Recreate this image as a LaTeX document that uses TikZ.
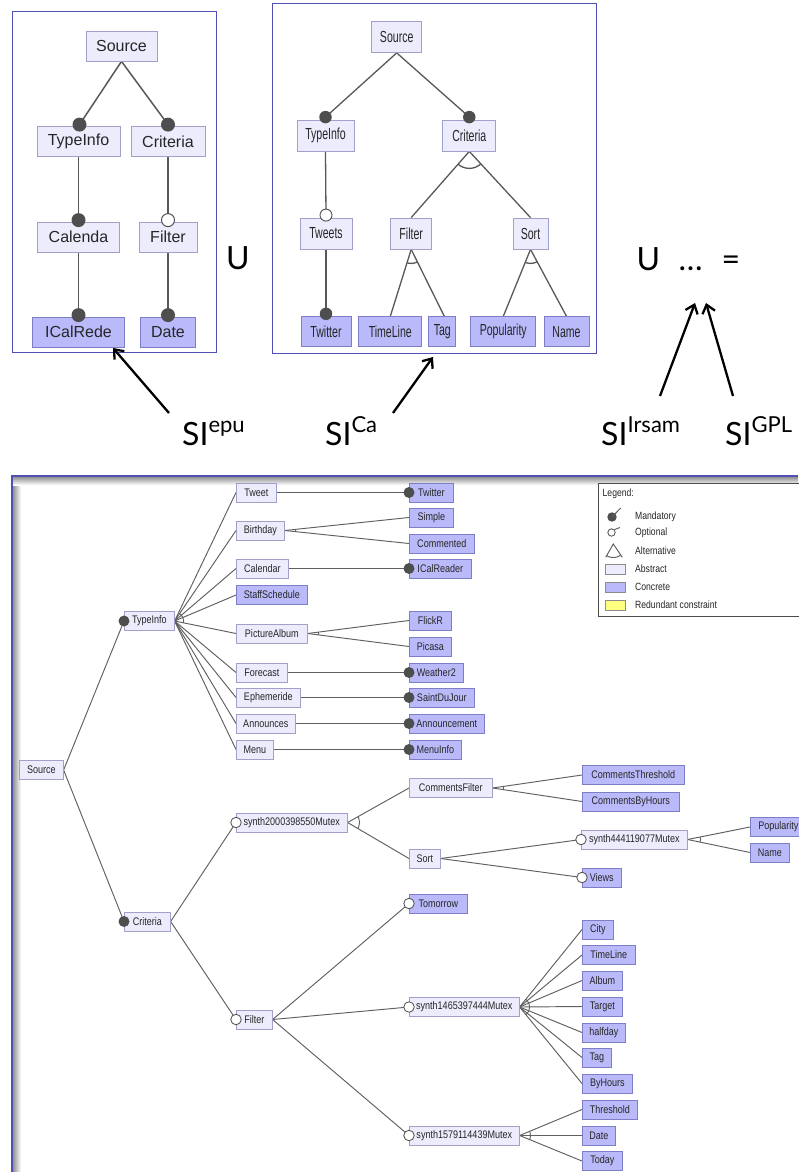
\documentclass[tikz,border=0pt]{standalone}
\usepackage{fontspec}
\setmainfont{Liberation Sans}
\newfontfamily\fpone{Liberation Sans}
\newfontfamily\fptwo[FakeStretch=0.66]{Liberation Sans}
\newfontfamily\fbot[FakeStretch=0.82]{Liberation Sans}
\newfontfamily\fgill{Lato}
\usetikzlibrary{arrows.meta,calc,backgrounds}
\definecolor{absfill}{RGB}{236,236,252}
\definecolor{absline}{RGB}{160,160,200}
\definecolor{confill}{RGB}{186,186,250}
\definecolor{conline}{RGB}{125,125,200}
\definecolor{frameblue}{RGB}{80,80,180}
\definecolor{edgegray}{RGB}{88,88,88}
\definecolor{dotgray}{RGB}{78,78,78}
\definecolor{redund}{RGB}{255,255,128}
\newcommand\grouparc[5]{\begin{scope}\clip (#1) -- ($(#1)!3!(#2)$) -- ($(#1)!3!(#3)$) -- cycle; \draw[#5] (#1) circle[radius=#4]; \end{scope}}
\begin{document}
\begin{tikzpicture}[x=1pt,y=-1pt,
  frameA/.style={draw=frameblue, line width=1pt},
  frameB/.style={draw=frameblue, line width=1.6pt},
  p1abs/.style={draw=absline, fill=absfill, line width=0.8pt, inner sep=0pt, minimum height=30pt, text=black!85, font={\fpone\fontsize{16}{16}\selectfont}},
  p1con/.style={p1abs, draw=conline, fill=confill},
  p2abs/.style={draw=absline, fill=absfill, line width=0.8pt, inner sep=0pt, minimum height=31pt, text=black!85, font={\fptwo\fontsize{16}{16}\selectfont}},
  p2con/.style={p2abs, draw=conline, fill=confill, minimum height=30pt},
  babs/.style={draw=absline, fill=absfill, line width=0.6pt, inner sep=0pt, minimum height=19pt, anchor=west, text=black!85, font={\fbot\fontsize{11}{11}\selectfont}},
  bcon/.style={babs, draw=conline, fill=confill},
  mandA/.style={circle, fill=dotgray, inner sep=0pt, minimum size=14pt},
  optA/.style={circle, fill=white, draw=dotgray, line width=1pt, inner sep=0pt, minimum size=13pt},
  mandB/.style={circle, fill=dotgray, inner sep=0pt, minimum size=12.5pt},
  optB/.style={circle, fill=white, draw=dotgray, line width=0.9pt, inner sep=0pt, minimum size=12pt},
  mandC/.style={circle, fill=dotgray, inner sep=0pt, minimum size=11pt},
  optC/.style={circle, fill=white, draw=dotgray, line width=0.8pt, inner sep=0pt, minimum size=10.5pt},
  edgeA/.style={draw=edgegray, line width=1.5pt},
  edgeB/.style={draw=edgegray, line width=1.3pt},
  edgeC/.style={draw=edgegray!95, line width=0.95pt},
  bigarrow/.style={draw=black, line width=2.3pt, -{Straight Barb[length=8pt,width=13pt]}},
  gill/.style={inner sep=0pt, font={\fgill\fontsize{32}{32}\selectfont}},
  silabel/.style={inner sep=0pt, anchor=base west, font={\fgill\fontsize{32}{32}\selectfont}},
  legtext/.style={inner sep=0pt, anchor=west, text=black!85, font={\fbot\fontsize{10.5}{10.5}\selectfont}},
  swatch/.style={draw=black!45, line width=0.6pt, minimum width=20pt, minimum height=10pt, inner sep=0pt}
]
\useasboundingbox (0,0) rectangle (798,1172);

% ---------------- panel 1 ----------------
\draw[frameA] (12,12) rectangle (216,352);
\node[p1abs, minimum width=71pt] (src1) at (121.5,46) {Source};
\node[p1abs, minimum width=83pt] (ti1) at (78.5,141.5) {TypeInfo};
\node[p1abs, minimum width=74pt] (cr1) at (168,141.5) {Criteria};
\node[p1abs, minimum width=82pt] (cal1) at (78.5,237) {Calenda};
\node[p1abs, minimum width=58pt] (fil1) at (168,237) {Filter};
\node[p1con, minimum width=92pt] (ical1) at (78.5,332) {ICalRede};
\node[p1con, minimum width=55pt] (date1) at (168,332) {Date};
\node[mandA] (k1a) at ($(ti1.north)+(1,-1.5)$) {};
\node[mandA] (k1b) at ($(cr1.north)+(0,-1.5)$) {};
\node[mandA] (k1c) at ($(cal1.north)+(0,-1.5)$) {};
\node[optA]  (k1d) at ($(fil1.north)+(0,-1.5)$) {};
\node[mandA] (k1e) at ($(ical1.north)+(0,-1.5)$) {};
\node[mandA] (k1f) at ($(date1.north)+(0,-1.5)$) {};
\begin{scope}[on background layer]
\draw[edgeA] (src1.south) -- (k1a.center);
\draw[edgeA] (src1.south) -- (k1b.center);
\draw[edgeA] (ti1.south) -- (k1c.center);
\draw[edgeA] (cr1.south) -- (k1d.center);
\draw[edgeA] (cal1.south) -- (k1e.center);
\draw[edgeA] (fil1.south) -- (k1f.center);
\end{scope}

% ---------------- panel 2 ----------------
\draw[frameA] (272,4) rectangle (596,353);
\node[p2abs, minimum width=50pt] (src2) at (396.7,37) {Source};
\node[p2abs, minimum width=57pt] (ti2) at (325.5,135.5) {TypeInfo};
\node[p2abs, minimum width=53pt] (cr2) at (469.3,135.5) {Criteria};
\node[p2abs, minimum width=52pt] (tw2) at (326,233.5) {Tweets};
\node[p2abs, minimum width=41pt] (fil2) at (411.2,233.5) {Filter};
\node[p2abs, minimum width=35pt] (sort2) at (530.5,233.5) {Sort};
\node[p2con, minimum width=50pt] (twit2) at (326,331.7) {Twitter};
\node[p2con, minimum width=63pt] (tl2) at (390.3,331.7) {TimeLine};
\node[p2con, minimum width=27pt] (tag2) at (442.3,331.7) {Tag};
\node[p2con, minimum width=65pt] (pop2) at (503.3,331.7) {Popularity};
\node[p2con, minimum width=45pt] (name2) at (566.5,331.7) {Name};
\node[mandB] (k2a) at ($(ti2.north)+(0,-2.5)$) {};
\node[mandB] (k2b) at ($(cr2.north)+(0,-2.5)$) {};
\node[optB]  (k2c) at ($(tw2.north)+(0,-2.5)$) {};
\node[mandB] (k2d) at ($(twit2.north)+(0,-2.5)$) {};
\begin{scope}[on background layer]
\draw[edgeB] (src2.south) -- (k2a.center);
\draw[edgeB] (src2.south) -- (k2b.center);
\draw[edgeB] (ti2.south) -- (k2c.center);
\draw[edgeB] (tw2.south) -- (k2d.center);
\draw[edgeB] (cr2.south) -- (fil2.north);
\draw[edgeB] (cr2.south) -- (sort2.north);
\draw[edgeB] (fil2.south) -- (tl2.north);
\draw[edgeB] (fil2.south) -- ($(tag2.north)+(2,0)$);
\draw[edgeB] (sort2.south) -- (pop2.north);
\draw[edgeB] (sort2.south) -- (name2.north);
\end{scope}
\grouparc{cr2.south}{fil2.north}{sort2.north}{17}{edgeB}
\grouparc{fil2.south}{tl2.north}{tag2.north}{14}{edgeB}
\grouparc{sort2.south}{pop2.north}{name2.north}{14}{edgeB}

% ---------------- union signs and labels ----------------
\node[gill, anchor=base] (u1) at (238,269.5) {U};
\node[gill, anchor=base] (u2) at (648.5,270) {U};
\node[gill, anchor=base] (dots) at (690.5,270) {…};
\node[gill, anchor=base] (eq) at (731,270) {=};

\node[silabel] (siepu) at (182,445) {SI\raisebox{12.5pt}{\fontsize{22}{22}\selectfont epu}};
\node[silabel] (sica) at (325,445) {SI\raisebox{12.5pt}{\fontsize{22}{22}\selectfont Ca}};
\node[silabel] (siirsam) at (601,445) {SI\raisebox{12.5pt}{\fontsize{22}{22}\selectfont Irsam}};
\node[silabel] (sigpl) at (725,445) {SI\raisebox{12.5pt}{\fontsize{22}{22}\selectfont GPL}};

\coordinate (aepuS) at (169,413);  \coordinate (aepuT) at (113,348);
\coordinate (acaS) at (393,413);   \coordinate (acaT) at (433,357);
\coordinate (airS) at (660,396);   \coordinate (airT) at (695,303);
\coordinate (agplS) at (733,396);  \coordinate (agplT) at (706,303);
\draw[bigarrow] (aepuS) -- (aepuT);
\draw[bigarrow] (acaS) -- (acaT);
\draw[bigarrow] (airS) -- (airT);
\draw[bigarrow] (agplS) -- (agplT);

% ---------------- bottom panel ----------------
\shade[left color=black!45, right color=white] (12.5,476.5) rectangle (21,1172);
\shade[top color=black!45, bottom color=white] (12.5,476.5) rectangle (798,485);
\draw[frameB] (12,1172) -- (12,476) -- (798,476);

% abstract features
\node[babs, minimum width=44pt] (bsrc) at (19,770) {Source};
\node[babs, minimum width=50pt] (bti) at (124,621) {TypeInfo};
\node[babs, minimum width=46pt] (bcr) at (124,921.5) {Criteria};
\node[babs, minimum width=40pt] (btweet) at (236,492.5) {Tweet};
\node[babs, minimum width=48pt] (bbday) at (236,530.5) {Birthday};
\node[babs, minimum width=52pt] (bcal) at (236,568.5) {Calendar};
\node[babs, minimum width=71pt] (bpic) at (236,633.5) {PictureAlbum};
\node[babs, minimum width=51pt] (bfore) at (236,672.5) {Forecast};
\node[babs, minimum width=64pt] (beph) at (236,697.5) {Ephemeride};
\node[babs, minimum width=59pt] (bann) at (236,723.5) {Announces};
\node[babs, minimum width=37pt] (bmenu) at (236,749.5) {Menu};
\node[babs, minimum width=111pt] (bs2000) at (236,822.5) {synth2000398550Mutex};
\node[babs, minimum width=83pt] (bcf) at (409,788) {CommentsFilter};
\node[babs, minimum width=31pt] (bsort) at (409,858.5) {Sort};
\node[babs, minimum width=106pt] (bs444) at (581,839.5) {synth444119077Mutex};
\node[babs, minimum width=36pt] (bfil) at (236,1019.5) {Filter};
\node[babs, minimum width=110pt] (bs1465) at (409,1007) {synth1465397444Mutex};
\node[babs, minimum width=110pt] (bs1579) at (409,1135.5) {synth1579114439Mutex};
% concrete features
\node[bcon, minimum width=44pt] (btwitter) at (409,492.5) {Twitter};
\node[bcon, minimum width=44pt] (bsimple) at (409,517.5) {Simple};
\node[bcon, minimum width=65pt] (bcomm) at (409,543.5) {Commented};
\node[bcon, minimum width=62pt] (bical) at (409,568.5) {ICalReader};
\node[bcon, minimum width=71pt] (bstaff) at (236,595) {StaffSchedule};
\node[bcon, minimum width=42pt] (bflick) at (409,620.5) {FlickR};
\node[bcon, minimum width=42pt] (bpicasa) at (409,646.5) {Picasa};
\node[bcon, minimum width=54pt] (bweather) at (409,672.5) {Weather2};
\node[bcon, minimum width=65pt] (bsaint) at (409,697.5) {SaintDuJour};
\node[bcon, minimum width=75pt] (bannc) at (409,723.5) {Announcement};
\node[bcon, minimum width=52pt] (bmenui) at (409,749.5) {MenuInfo};
\node[bcon, minimum width=102pt] (bcthr) at (582,775) {CommentsThreshold};
\node[bcon, minimum width=97pt] (bcbh) at (582,801.5) {CommentsByHours};
\node[bcon, minimum width=56pt] (bpop) at (750,827) {Popularity};
\node[bcon, minimum width=39pt] (bname) at (750,852.5) {Name};
\node[bcon, minimum width=39pt] (bviews) at (582,877.5) {Views};
\node[bcon, minimum width=58pt] (btom) at (409,903.5) {Tomorrow};
\node[bcon, minimum width=31pt] (bcity) at (582,929.5) {City};
\node[bcon, minimum width=53pt] (btl) at (582,955) {TimeLine};
\node[bcon, minimum width=40pt] (balbum) at (582,980.5) {Album};
\node[bcon, minimum width=40pt] (btarget) at (582,1006.5) {Target};
\node[bcon, minimum width=43pt] (bhalf) at (582,1032.5) {halfday};
\node[bcon, minimum width=29pt] (btag) at (582,1057.5) {Tag};
\node[bcon, minimum width=50pt] (bbyh) at (582,1083.5) {ByHours};
\node[bcon, minimum width=55pt] (bthr) at (582,1109.5) {Threshold};
\node[bcon, minimum width=33pt] (bdate) at (582,1135.5) {Date};
\node[bcon, minimum width=40pt] (btoday) at (582,1161) {Today};
% decorations: mandatory / optional
\foreach \n in {bti,bcr,btwitter,bical,bweather,bsaint,bannc,bmenui}
  \node[mandC] at (\n.west) {};
\foreach \n in {bs2000,bs444,bviews,btom,bfil,bs1465,bs1579}
  \node[optC] at (\n.west) {};

\begin{scope}[on background layer]
\draw[edgeC] (bsrc.east) -- (bti.west);
\draw[edgeC] (bsrc.east) -- (bcr.west);
\foreach \n in {btweet,bbday,bcal,bstaff,bpic,bfore,beph,bann,bmenu}
  \draw[edgeC] (bti.east) -- (\n.west);
\draw[edgeC] (btweet.east) -- (btwitter.west);
\draw[edgeC] (bbday.east) -- (bsimple.west);
\draw[edgeC] (bbday.east) -- (bcomm.west);
\draw[edgeC] (bcal.east) -- (bical.west);
\draw[edgeC] (bpic.east) -- (bflick.west);
\draw[edgeC] (bpic.east) -- (bpicasa.west);
\draw[edgeC] (bfore.east) -- (bweather.west);
\draw[edgeC] (beph.east) -- (bsaint.west);
\draw[edgeC] (bann.east) -- (bannc.west);
\draw[edgeC] (bmenu.east) -- (bmenui.west);
\draw[edgeC] (bcr.east) -- (bs2000.west);
\draw[edgeC] (bcr.east) -- (bfil.west);
\draw[edgeC] (bs2000.east) -- (bcf.west);
\draw[edgeC] (bs2000.east) -- (bsort.west);
\draw[edgeC] (bcf.east) -- (bcthr.west);
\draw[edgeC] (bcf.east) -- (bcbh.west);
\draw[edgeC] (bsort.east) -- (bs444.west);
\draw[edgeC] (bsort.east) -- (bviews.west);
\draw[edgeC] (bs444.east) -- (bpop.west);
\draw[edgeC] (bs444.east) -- (bname.west);
\draw[edgeC] (bfil.east) -- (btom.west);
\draw[edgeC] (bfil.east) -- (bs1465.west);
\draw[edgeC] (bfil.east) -- (bs1579.west);
\foreach \n in {bcity,btl,balbum,btarget,bhalf,btag,bbyh}
  \draw[edgeC] (bs1465.east) -- (\n.west);
\foreach \n in {bthr,bdate,btoday}
  \draw[edgeC] (bs1579.east) -- (\n.west);
\end{scope}
\grouparc{bti.east}{bbday.west}{bpic.west}{9}{edgeC}
\grouparc{bbday.east}{bsimple.west}{bcomm.west}{11}{edgeC}
\grouparc{bpic.east}{bflick.west}{bpicasa.west}{11}{edgeC}
\grouparc{bs2000.east}{bcf.west}{bsort.west}{12}{edgeC}
\grouparc{bcf.east}{bcthr.west}{bcbh.west}{11}{edgeC}
\grouparc{bs444.east}{bpop.west}{bname.west}{13}{edgeC}
\grouparc{bs1465.east}{bcity.west}{bbyh.west}{10}{edgeC}
\grouparc{bs1579.east}{bthr.west}{btoday.west}{11}{edgeC}

% ---------------- legend ----------------
\draw[draw=black!70, fill=white, line width=0.7pt] (598,483) rectangle (805,616);
\node[legtext] (lgtitle) at (602.5,493.5) {Legend:};
\node[circle, fill=dotgray, inner sep=0pt, minimum size=9.4pt] (lgm) at (612,517) {};
\coordinate (lgmend) at (620.7,508);
\draw[edgeC] (lgm.center) -- (lgmend);
\node[circle, draw=dotgray, fill=white, line width=0.8pt, inner sep=0pt, minimum size=7.4pt] (lgo) at (611.5,532.5) {};
\coordinate (lgoend) at (620,527.5);
\draw[edgeC] (lgo.north east) -- (lgoend);
\coordinate (lga) at (613.3,544);
\coordinate (lgl) at (605.7,557.3);
\coordinate (lgr) at (622.3,557.3);
\draw[edgeC] (lgl) -- (lga) -- (lgr);
\grouparc{lga}{lgl}{lgr}{13.5}{edgeC}
\node[swatch, fill=absfill] (lgsa) at (615,569.2) {};
\node[swatch, fill=confill] (lgsc) at (615,587.2) {};
\node[swatch, fill=redund] (lgsr) at (615,605.3) {};
\node[legtext] (lgt1) at (635,517) {Mandatory};
\node[legtext] (lgt2) at (635,533) {Optional};
\node[legtext] (lgt3) at (635,551) {Alternative};
\node[legtext] (lgt4) at (635,569) {Abstract};
\node[legtext] (lgt5) at (635,587) {Concrete};
\node[legtext] (lgt6) at (635,605) {Redundant constraint};
\end{tikzpicture}
\end{document}
